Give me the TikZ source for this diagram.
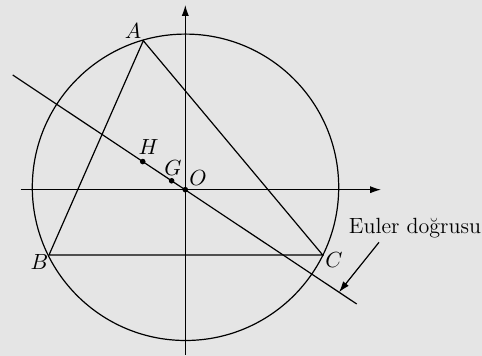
\documentclass[tikz,border=0pt]{standalone}
\usepackage{fontspec}
\usetikzlibrary{arrows.meta,calc}

\begin{document}
\begin{tikzpicture}[
    x=0.5pt, y=-0.5pt,
    every node/.style={font=\fontsize{11}{13}\selectfont},
    lbl/.style={inner sep=0pt},
    thin line/.style={line width=0.6pt},
    axis/.style={line width=0.6pt, -{Latex[length=5.5pt,width=3.6pt]}},
    pointer/.style={line width=0.6pt, -{Latex[length=5.5pt,width=3.6pt]}},
    dot/.style={fill=black}
]
% background and frame size
\fill[black!10] (0,0) rectangle (482,356);
\useasboundingbox (0,0) rectangle (482,356);

% points
\coordinate (O) at (185.3,189.7);
\coordinate (M) at (185.5,187.3);
\coordinate (A) at (143.3,40.7);
\coordinate (B) at (49,255);
\coordinate (C) at (322.7,255);
\coordinate (E1) at (12.7,75);
\coordinate (E2) at (356.7,304);
\coordinate (H) at ($(E1)!0.378!(E2)$);
\coordinate (G) at ($(E1)!0.462!(E2)$);
\coordinate (eP) at ($(E1)!0.9486!(E2)$);
\coordinate (ptr) at (379,242.3);

% axes
\draw[axis] (20.7,189.7) -- (381,189.7);
\draw[axis] (185.3,355) -- (185.3,5);

% circumcircle and triangle
\draw[thin line] (M) circle[radius=76.6pt];
\draw[thin line, line join=miter] (A) -- (B) -- (C) -- cycle;

% Euler line
\draw[thin line] (E1) -- (E2);

\fill[dot] (H) circle[radius=1.4pt];
\fill[dot] (G) circle[radius=1.4pt];
\fill[dot] (O) circle[radius=1.4pt];

% labels
\node[lbl] (lA) at (133,31) {$A$};
\node[lbl] (lB) at (39.5,262) {$B$};
\node[lbl] (lC) at (334,260) {$C$};
\node[lbl] (lH) at (148.5,147) {$H$};
\node[lbl] (lG) at (173,168) {$G$};
\node[lbl] (lO) at (198,178.5) {$O$};
\node[lbl] (euler) at (415,228) {Euler doğrusu};

\draw[pointer] (ptr) -- (eP);
\end{tikzpicture}
\end{document}
